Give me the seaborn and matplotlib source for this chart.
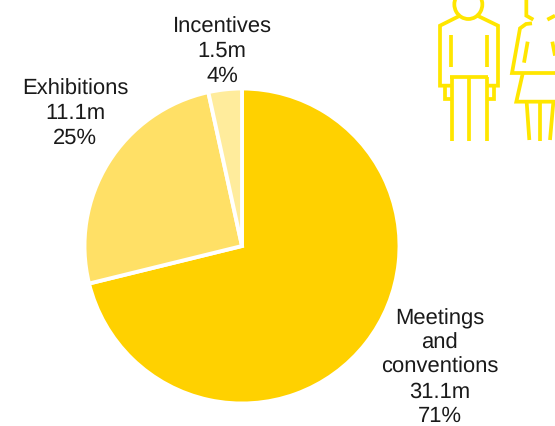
import matplotlib
matplotlib.use("Agg")
import matplotlib.pyplot as plt
import seaborn as sns
from matplotlib.patches import Arc

# Event revenue split, in millions
categories = ["Meetings\nand\nconventions", "Exhibitions", "Incentives"]
revenue_m = [31.1, 11.1, 1.5]
share_pct = [71, 25, 4]
slice_colors = ["#FFD100", "#FFE066", "#FFEC9C"]
icon_color = "#FFE600"

W, H = 555, 427

sns.set_theme(style="white")
plt.rcParams["font.family"] = ["Liberation Sans", "DejaVu Sans"]
plt.rcParams["text.hinting"] = "no_hinting"
plt.rcParams["text.hinting_factor"] = 1

fig = plt.figure(figsize=(W / 100, H / 100), dpi=100, facecolor="white")

# Pie axes: the white wedge edge trims about 2 px off the outer radius
cx, cy, r = 242, 247, 157.5
ax = fig.add_axes([(cx - r) / W, 1 - (cy + r) / H, 2 * r / W, 2 * r / H])
ax.pie(revenue_m, colors=slice_colors, startangle=90, counterclock=False,
       radius=1, wedgeprops=dict(edgecolor="white", linewidth=2.8))
ax.set_xlim(-1, 1)
ax.set_ylim(-1, 1)
ax.set_aspect("equal")
ax.axis("off")

# Overlay in pixel units for the slice captions and the pictograms
ov = fig.add_axes([0, 0, 1, 1], zorder=3)
ov.set_xlim(0, W)
ov.set_ylim(H, 0)
ov.axis("off")
ov.patch.set_alpha(0)

label_anchors = [(439.5, 367.5), (75, 113.5), (222, 51.5)]
for name, val, pct, (x, y) in zip(categories, revenue_m, share_pct, label_anchors):
    ov.text(x, y, f"{name}\n{val}m\n{pct}%", ha="center", va="center",
            fontsize=15.5, color="#1a1a1a", linespacing=1.25)

ICON_LW = 2.7

def stroke(*pts):
    xs = [420 + p[0] / 3 for p in pts]
    ys = [p[1] / 3 for p in pts]
    ov.plot(xs, ys, color=icon_color, lw=ICON_LW, solid_capstyle="butt",
            solid_joinstyle="miter", clip_on=True)

# Man
ov.add_patch(Arc((420 + 145 / 3, 16 / 3), 84 / 3, 88 / 3, theta1=-30, theta2=210,
                 color=icon_color, lw=ICON_LW))
stroke((120, 50), (60, 80), (60, 260), (95, 260))
stroke((172, 50), (234, 80), (234, 260), (201, 260))
stroke((93, 108), (93, 203))
stroke((201, 108), (201, 203))
stroke((91, 235), (205, 235))
stroke((95, 235), (95, 425))
stroke((147, 235), (147, 425))
stroke((201, 235), (201, 425))
stroke((75, 262), (75, 299), (95, 299))
stroke((222, 262), (222, 299), (203, 299))

# Woman
stroke((319, 0), (319, 50), (340, 62))
stroke((405, 50), (382, 62))
stroke((336, 73), (318, 75), (300, 88), (276, 222), (405, 222))
stroke((308, 224), (289, 308), (405, 308))
stroke((323, 128), (312, 191))
stroke((397, 128), (405, 170))
stroke((320, 310), (328, 423))
stroke((360, 310), (360, 425))
stroke((400, 310), (390, 423))

fig.savefig("out.png", dpi=100, facecolor="white")
